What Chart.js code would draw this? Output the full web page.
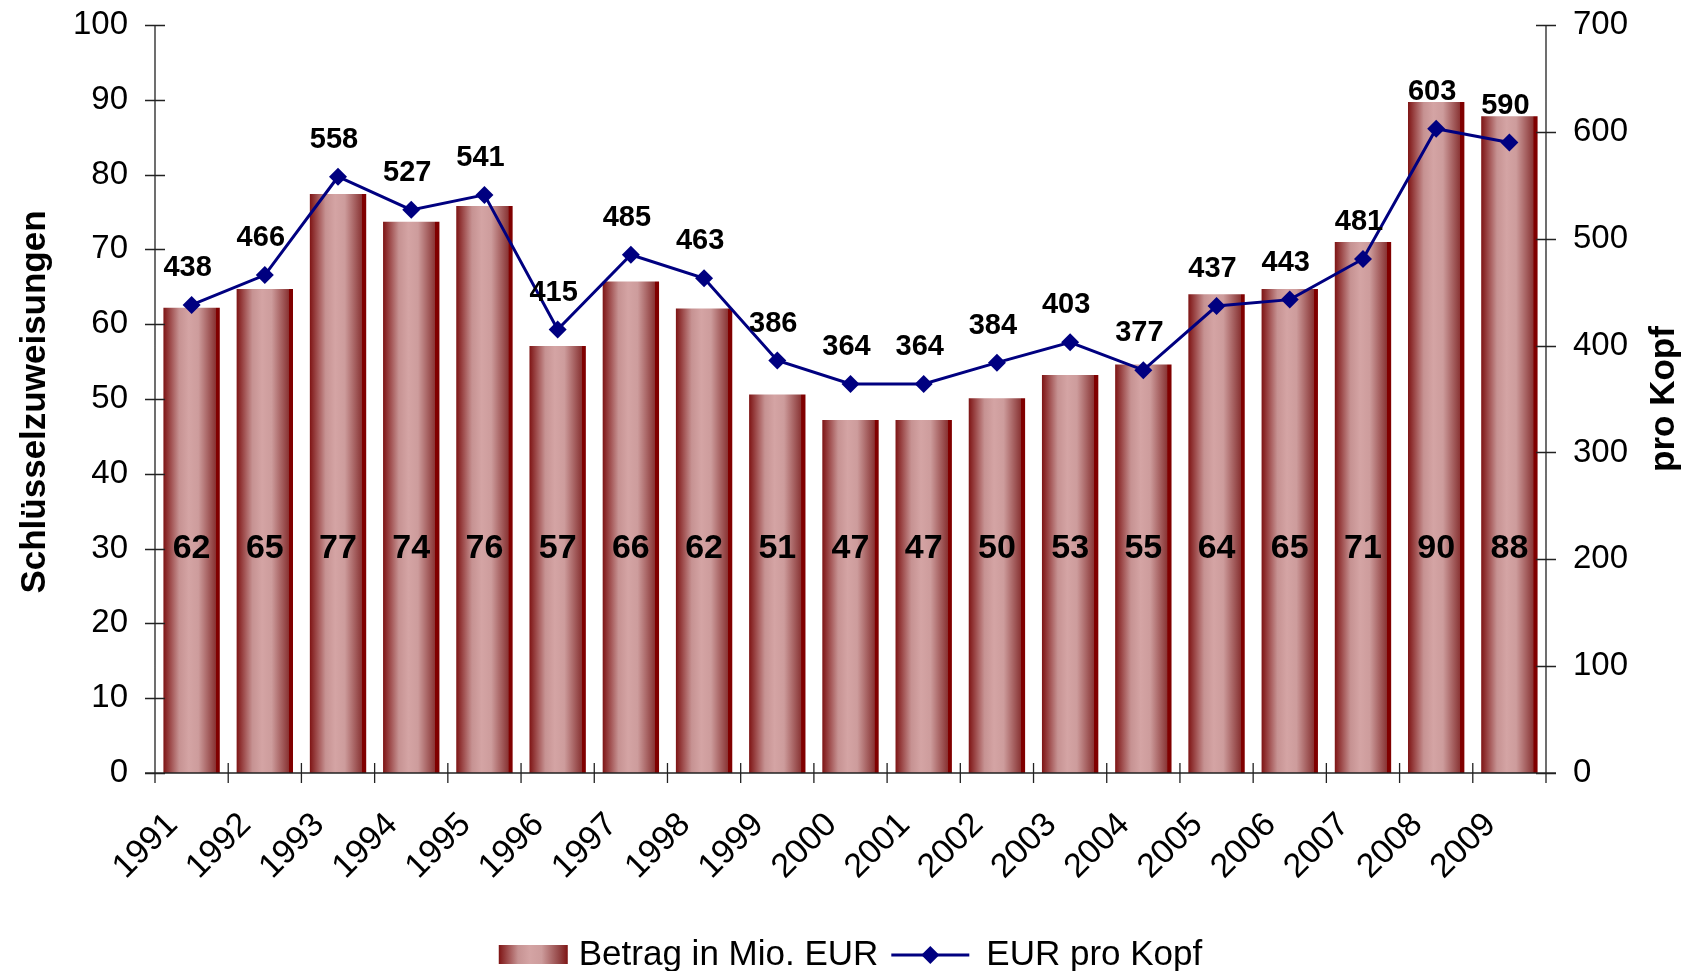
<!DOCTYPE html>
<html>
<head>
<meta charset="utf-8">
<script src="https://cdn.jsdelivr.net/npm/chart.js@4.4.1/dist/chart.umd.min.js"></script>
<style>
  html, body { margin: 0; padding: 0; background: #fff; }
  #wrap { width: 1684px; height: 971px; position: relative; }
</style>
</head>
<body>
<div id="wrap"><canvas id="chart"></canvas></div>
<script>
// data
const years = ['1991', '1992', '1993', '1994', '1995', '1996', '1997', '1998', '1999', '2000',
               '2001', '2002', '2003', '2004', '2005', '2006', '2007', '2008', '2009'];
const betragMio = [62.2, 64.7, 77.4, 73.7, 75.8, 57.1, 65.7, 62.1, 50.6, 47.2,
                   47.2, 50.1, 53.2, 54.6, 64.0, 64.7, 71.0, 89.7, 87.8];
const eurProKopf = [438, 466, 558, 527, 541, 415, 485, 463, 386, 364,
                    364, 384, 403, 377, 437, 443, 481, 603, 590];
const leftAxis = { min: 0, max: 100, step: 10 };
const rightAxis = { min: 0, max: 700, step: 100 };
const seriesNames = ['Betrag in Mio. EUR', 'EUR pro Kopf'];
const leftTitle = 'Schlüsselzuweisungen';
const rightTitle = 'pro Kopf';

const FONT = "'Liberation Sans', Arial, sans-serif";
const BAR_PCT = 0.77;

const barGradient = (ctx, x0, x1, withEdge) => {
    const g = ctx.createLinearGradient(x0, 0, x1, 0);
    g.addColorStop(0, '#7e1414');
    g.addColorStop(0.28, '#c69292');
    g.addColorStop(0.45, '#d4a4a4');
    g.addColorStop(0.62, '#cd9c9c');
    g.addColorStop(0.88, '#934444');
    if (withEdge) {
        g.addColorStop(0.925, '#8a3434');
        g.addColorStop(0.93, '#800000');
        g.addColorStop(1, '#800000');
    } else {
        g.addColorStop(1, '#7e1414');
    }
    return g;
};

// axes, labels, titles and legend drawn on top
const decorPlugin = {
    id: 'decor',
    afterDatasetsDraw(chart) {
        const { ctx, chartArea: a, scales: { x, y, y1 } } = chart;
        ctx.save();

        // axis lines + crossing tick marks
        ctx.strokeStyle = '#222';
        ctx.lineWidth = 1.3;
        ctx.beginPath();
        ctx.moveTo(a.left, a.top); ctx.lineTo(a.left, a.bottom);
        ctx.moveTo(a.right, a.top); ctx.lineTo(a.right, a.bottom);
        ctx.moveTo(a.left - 10, a.bottom); ctx.lineTo(a.right + 10, a.bottom);
        y.ticks.forEach(t => {
            const py = Math.round(y.getPixelForValue(t.value)) + 0.5;
            ctx.moveTo(a.left - 10, py); ctx.lineTo(a.left + 10, py);
        });
        y1.ticks.forEach(t => {
            const py = Math.round(y1.getPixelForValue(t.value)) + 0.5;
            ctx.moveTo(a.right - 10, py); ctx.lineTo(a.right + 10, py);
        });
        for (let i = 0; i <= years.length; i++) {
            const px = x.getPixelForValue(i - 0.5);
            ctx.moveTo(px, a.bottom - 10); ctx.lineTo(px, a.bottom + 10);
        }
        ctx.stroke();

        // value labels
        ctx.fillStyle = '#000';
        ctx.textAlign = 'center';
        ctx.textBaseline = 'middle';
        ctx.font = 'bold 34px ' + FONT;
        const barMeta = chart.getDatasetMeta(0);
        barMeta.data.forEach((bar, i) => {
            ctx.fillText(Math.round(betragMio[i]), bar.x, y.getPixelForValue(30));
        });
        ctx.font = 'bold 29px ' + FONT;
        const lineMeta = chart.getDatasetMeta(1);
        lineMeta.data.forEach((pt, i) => {
            ctx.fillText(eurProKopf[i], pt.x - 4, pt.y - 37);
        });

        // axis titles (both read bottom to top)
        ctx.font = 'bold 35px ' + FONT;
        const midY = (a.top + a.bottom) / 2;
        ctx.save();
        ctx.translate(35, midY + 3);
        ctx.rotate(-Math.PI / 2);
        ctx.fillText(leftTitle, 0, 0);
        ctx.restore();
        ctx.save();
        ctx.translate(1664, midY);
        ctx.rotate(-Math.PI / 2);
        ctx.fillText(rightTitle, 0, 0);
        ctx.restore();

        // legend
        ctx.font = '35px ' + FONT;
        ctx.textAlign = 'left';
        const w1 = ctx.measureText(seriesNames[0]).width;
        const w2 = ctx.measureText(seriesNames[1]).width;
        const boxW = 69, lineW = 78;
        const total = boxW + 11 + w1 + 13 + lineW + 17 + w2;
        let lx = (a.left + a.right) / 2 - total / 2;
        const ly = 955;
        ctx.fillStyle = barGradient(ctx, lx, lx + boxW, false);
        ctx.fillRect(lx, ly - 10, boxW, 19);
        lx += boxW + 11;
        ctx.fillStyle = '#000';
        ctx.fillText(seriesNames[0], lx, ly);
        lx += w1 + 13;
        ctx.strokeStyle = '#000080';
        ctx.lineWidth = 3;
        ctx.beginPath();
        ctx.moveTo(lx, ly); ctx.lineTo(lx + lineW, ly);
        ctx.stroke();
        const dx = lx + lineW / 2;
        ctx.fillStyle = '#000080';
        ctx.beginPath();
        ctx.moveTo(dx, ly - 9); ctx.lineTo(dx + 9, ly); ctx.lineTo(dx, ly + 9); ctx.lineTo(dx - 9, ly);
        ctx.closePath();
        ctx.fill();
        lx += lineW + 17;
        ctx.fillStyle = '#000';
        ctx.fillText(seriesNames[1], lx, ly);

        ctx.restore();
    }
};

const fitVertical = (w) => (s) => {
    s.width = w;
    s.paddingTop = 0;
    s.paddingBottom = 0;
};

const ctx = document.getElementById('chart').getContext('2d');

new Chart(ctx, {
    data: {
        labels: years,
        datasets: [{
            type: 'bar',
            label: seriesNames[0],
            data: betragMio,
            yAxisID: 'y',
            order: 2,
            barPercentage: BAR_PCT,
            categoryPercentage: 1,
            borderWidth: 0,
            backgroundColor: (c) => {
                const chart = c.chart;
                if (!chart.chartArea || c.dataIndex === undefined) return '#b06060';
                const xs = chart.scales.x;
                const w = (xs.width / years.length) * BAR_PCT;
                const cx = xs.getPixelForValue(c.dataIndex);
                return barGradient(chart.ctx, cx - w / 2, cx + w / 2, true);
            }
        }, {
            type: 'line',
            label: seriesNames[1],
            data: eurProKopf,
            yAxisID: 'y1',
            order: 1,
            borderColor: '#000080',
            borderWidth: 3,
            backgroundColor: '#000080',
            pointStyle: 'rectRot',
            pointRadius: 9,
            pointBorderWidth: 0,
            tension: 0
        }]
    },
    options: {
        responsive: true,
        maintainAspectRatio: false,
        animation: false,
        layout: { padding: { top: 25, left: 0, right: 0, bottom: 0 } },
        plugins: {
            legend: { display: false },
            tooltip: { enabled: false }
        },
        scales: {
            x: {
                offset: true,
                grid: { display: false, drawTicks: false },
                border: { display: false },
                ticks: {
                    autoSkip: false,
                    minRotation: 45,
                    maxRotation: 45,
                    padding: 32,
                    labelOffset: -19,
                    color: '#000',
                    font: { family: FONT, size: 34 }
                },
                afterFit: (s) => { s.height = 198; s.paddingLeft = 0; s.paddingRight = 0; }
            },
            y: {
                position: 'left',
                min: leftAxis.min,
                max: leftAxis.max,
                grid: { display: false, drawTicks: false },
                border: { display: false },
                ticks: {
                    stepSize: leftAxis.step,
                    padding: 27,
                    color: '#000',
                    font: { family: FONT, size: 33 }
                },
                afterFit: fitVertical(155)
            },
            y1: {
                position: 'right',
                min: rightAxis.min,
                max: rightAxis.max,
                grid: { display: false, drawTicks: false },
                border: { display: false },
                ticks: {
                    stepSize: rightAxis.step,
                    padding: 27,
                    color: '#000',
                    font: { family: FONT, size: 33 }
                },
                afterFit: fitVertical(138)
            }
        }
    },
    plugins: [decorPlugin]
});
</script>
</body>
</html>
